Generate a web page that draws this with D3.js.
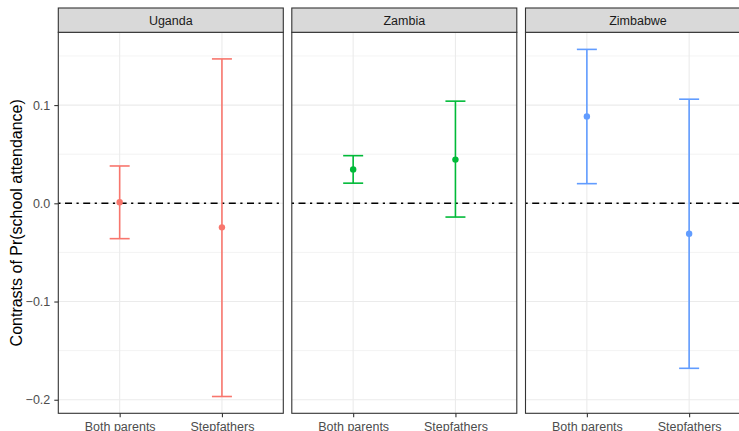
<!DOCTYPE html>
<html>
<head>
<meta charset="utf-8">
<script src="https://cdn.jsdelivr.net/npm/d3@7"></script>
<style>
  html, body { margin: 0; padding: 0; background: #fff; }
  svg { display: block; font-family: "Liberation Sans", Arial, sans-serif; }
</style>
</head>
<body>
<svg id="chart" width="739" height="431"></svg>
<script>
// ---- data ----
const countries = ["Uganda", "Zambia", "Zimbabwe"];
const groups = ["Both parents", "Stepfathers"];
const estimates = {
  Uganda:   [0.001, -0.0245],
  Zambia:   [0.0345, 0.0445],
  Zimbabwe: [0.0885, -0.031]
};
const lowers = {
  Uganda:   [-0.036, -0.1967],
  Zambia:   [0.0205, -0.0140],
  Zimbabwe: [0.0200, -0.1680]
};
const uppers = {
  Uganda:   [0.038, 0.147],
  Zambia:   [0.0485, 0.1040],
  Zimbabwe: [0.1567, 0.1060]
};
const colors = ["#F8766D", "#00BA38", "#619CFF"];
const majorTicks = [-0.2, -0.1, 0.0, 0.1];
const minorTicks = [-0.15, -0.05, 0.05, 0.15];
const yTitle = "Contrasts of Pr(school attendance)";

// ---- layout ----
const svg = d3.select("#chart");
const panelTop = 32.3, panelBottom = 413.3;
const stripTop = 8;
const panelW = 225;
const panelLefts = [58.3, 291.8, 525.5];

const y = d3.scaleLinear().domain([-0.2138, 0.1741]).range([panelBottom, panelTop]);

countries.forEach((c, i) => {
  const x0 = panelLefts[i];
  const x = d3.scalePoint().domain(groups).range([x0, x0 + panelW]).padding(0.6);
  const g = svg.append("g");

  // panel background
  g.append("rect").attr("x", x0).attr("y", panelTop).attr("width", panelW)
    .attr("height", panelBottom - panelTop).attr("fill", "#fff");

  // minor grid
  g.selectAll(".minor").data(minorTicks).enter().append("line")
    .attr("x1", x0).attr("x2", x0 + panelW)
    .attr("y1", d => y(d)).attr("y2", d => y(d))
    .attr("stroke", "#EBEBEB").attr("stroke-width", 0.6);
  // major grid
  g.selectAll(".major").data(majorTicks).enter().append("line")
    .attr("x1", x0).attr("x2", x0 + panelW)
    .attr("y1", d => y(d)).attr("y2", d => y(d))
    .attr("stroke", "#EBEBEB").attr("stroke-width", 1.1);
  g.selectAll(".vmajor").data(groups).enter().append("line")
    .attr("x1", d => x(d)).attr("x2", d => x(d))
    .attr("y1", panelTop).attr("y2", panelBottom)
    .attr("stroke", "#EBEBEB").attr("stroke-width", 1.1);

  // reference line
  g.append("line").attr("x1", x0).attr("x2", x0 + panelW)
    .attr("y1", y(0)).attr("y2", y(0))
    .attr("stroke", "#000").attr("stroke-width", 1.5)
    .attr("stroke-dasharray", "2.2,4.5,7,4.5");

  // error bars
  const col = colors[i];
  const half = 10;
  groups.forEach((grp, j) => {
    const cx = x(grp);
    const lo = lowers[c][j], hi = uppers[c][j], est = estimates[c][j];
    g.append("line").attr("x1", cx).attr("x2", cx)
      .attr("y1", y(lo)).attr("y2", y(hi))
      .attr("stroke", col).attr("stroke-width", 1.6);
    [lo, hi].forEach(v => {
      g.append("line").attr("x1", cx - half).attr("x2", cx + half)
        .attr("y1", y(v)).attr("y2", y(v))
        .attr("stroke", col).attr("stroke-width", 1.6);
    });
    g.append("circle").attr("cx", cx).attr("cy", y(est)).attr("r", 3.2).attr("fill", col);
  });

  // panel border
  g.append("rect").attr("x", x0).attr("y", panelTop).attr("width", panelW)
    .attr("height", panelBottom - panelTop).attr("fill", "none")
    .attr("stroke", "#333333").attr("stroke-width", 1.1);

  // strip
  g.append("rect").attr("x", x0).attr("y", stripTop).attr("width", panelW)
    .attr("height", panelTop - stripTop).attr("fill", "#D9D9D9")
    .attr("stroke", "#333333").attr("stroke-width", 1.1);
  g.append("text").attr("x", x0 + panelW / 2).attr("y", (stripTop + panelTop) / 2)
    .attr("dy", "0.35em").attr("text-anchor", "middle")
    .attr("font-size", "12.5px").attr("fill", "#1A1A1A").text(c);

  // x axis
  const xAxis = d3.axisBottom(x).tickSize(4).tickPadding(4.5);
  const xa = svg.append("g").attr("transform", `translate(0,${panelBottom})`).call(xAxis);
  xa.select(".domain").remove();
  xa.selectAll(".tick line").attr("stroke", "#333333").attr("stroke-width", 1.1);
  xa.selectAll(".tick text").attr("font-size", "12.5px").attr("fill", "#4D4D4D")
    .attr("font-family", "Liberation Sans, Arial, sans-serif");
});

// y axis on first panel
const yAxis = d3.axisLeft(y).tickValues(majorTicks).tickFormat(d3.format(".1f"))
  .tickSize(4).tickPadding(4);
const ya = svg.append("g").attr("transform", `translate(${panelLefts[0]},0)`).call(yAxis);
ya.select(".domain").remove();
ya.selectAll(".tick line").attr("stroke", "#333333").attr("stroke-width", 1.1);
ya.selectAll(".tick text").attr("font-size", "12.5px").attr("fill", "#4D4D4D")
  .attr("font-family", "Liberation Sans, Arial, sans-serif");

// y title
svg.append("text")
  .attr("transform", `translate(21.5,${(panelTop + panelBottom) / 2}) rotate(-90)`)
  .attr("text-anchor", "middle").attr("font-size", "16px").attr("fill", "#000")
  .text(yTitle);
</script>
</body>
</html>
